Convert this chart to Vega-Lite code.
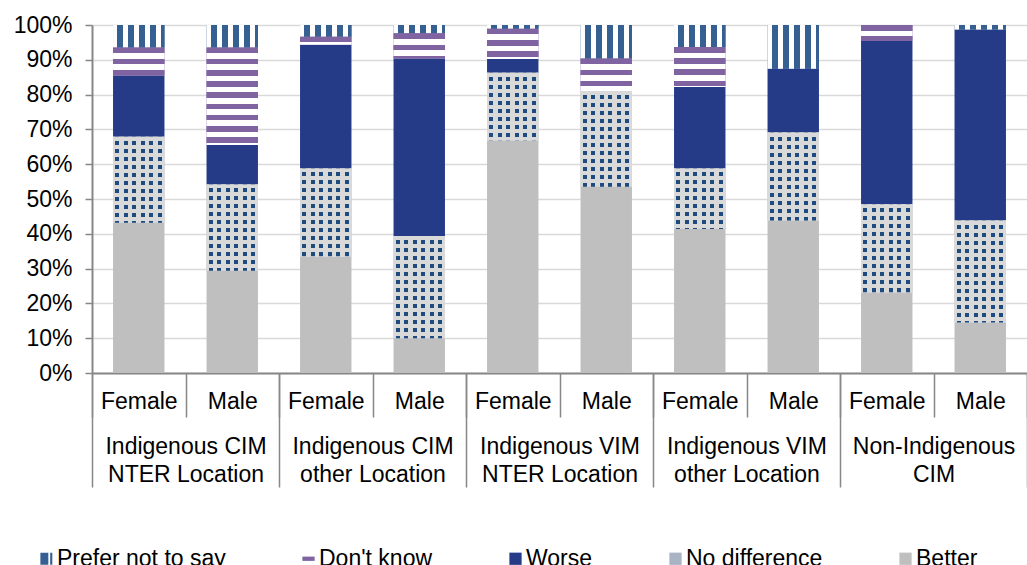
{
  "$schema": "https://vega.github.io/schema/vega-lite/v6.json",
  "width": 935,
  "height": 348,
  "autosize": {"type": "none"},
  "padding": {"left": 92, "top": 25, "right": 0, "bottom": 192},
  "background": "white",
  "params": [
    {"name": "gPNS", "value": {"gradient": "linear", "x1": 0, "y1": 0, "x2": 1, "y2": 0, "stops": [
      {"offset": 0, "color": "#ffffff"}, {"offset": 0.078, "color": "#ffffff"}, {"offset": 0.078, "color": "#376092"}, {"offset": 0.2, "color": "#376092"},
      {"offset": 0.2, "color": "#ffffff"}, {"offset": 0.292, "color": "#ffffff"}, {"offset": 0.292, "color": "#376092"}, {"offset": 0.414, "color": "#376092"},
      {"offset": 0.414, "color": "#ffffff"}, {"offset": 0.506, "color": "#ffffff"}, {"offset": 0.506, "color": "#376092"}, {"offset": 0.628, "color": "#376092"},
      {"offset": 0.628, "color": "#ffffff"}, {"offset": 0.72, "color": "#ffffff"}, {"offset": 0.72, "color": "#376092"}, {"offset": 0.842, "color": "#376092"},
      {"offset": 0.842, "color": "#ffffff"}, {"offset": 0.934, "color": "#ffffff"}, {"offset": 0.934, "color": "#376092"}, {"offset": 1, "color": "#376092"}
    ]}},
    {"name": "gNDX", "value": {"gradient": "linear", "x1": 0, "y1": 0, "x2": 1, "y2": 0, "stops": [
      {"offset": 0, "color": "#d9d9d9"}, {"offset": 0.04, "color": "#d9d9d9"}, {"offset": 0.04, "color": "#1f4a7e"}, {"offset": 0.118, "color": "#1f4a7e"},
      {"offset": 0.118, "color": "#d9d9d9"}, {"offset": 0.207, "color": "#d9d9d9"}, {"offset": 0.207, "color": "#1f4a7e"}, {"offset": 0.285, "color": "#1f4a7e"},
      {"offset": 0.285, "color": "#d9d9d9"}, {"offset": 0.373, "color": "#d9d9d9"}, {"offset": 0.373, "color": "#1f4a7e"}, {"offset": 0.451, "color": "#1f4a7e"},
      {"offset": 0.451, "color": "#d9d9d9"}, {"offset": 0.54, "color": "#d9d9d9"}, {"offset": 0.54, "color": "#1f4a7e"}, {"offset": 0.618, "color": "#1f4a7e"},
      {"offset": 0.618, "color": "#d9d9d9"}, {"offset": 0.707, "color": "#d9d9d9"}, {"offset": 0.707, "color": "#1f4a7e"}, {"offset": 0.785, "color": "#1f4a7e"},
      {"offset": 0.785, "color": "#d9d9d9"}, {"offset": 0.873, "color": "#d9d9d9"}, {"offset": 0.873, "color": "#1f4a7e"}, {"offset": 0.951, "color": "#1f4a7e"},
      {"offset": 0.951, "color": "#d9d9d9"}, {"offset": 1, "color": "#d9d9d9"}
    ]}},
    {"name": "sDK", "value": [
      {"offset": 0, "color": "#8064a2"}, {"offset": 0.05, "color": "#8064a2"}, {"offset": 0.05, "color": "#ffffff"}, {"offset": 0.1, "color": "#ffffff"},
      {"offset": 0.1, "color": "#8064a2"}, {"offset": 0.15, "color": "#8064a2"}, {"offset": 0.15, "color": "#ffffff"}, {"offset": 0.2, "color": "#ffffff"},
      {"offset": 0.2, "color": "#8064a2"}, {"offset": 0.25, "color": "#8064a2"}, {"offset": 0.25, "color": "#ffffff"}, {"offset": 0.3, "color": "#ffffff"},
      {"offset": 0.3, "color": "#8064a2"}, {"offset": 0.35, "color": "#8064a2"}, {"offset": 0.35, "color": "#ffffff"}, {"offset": 0.4, "color": "#ffffff"},
      {"offset": 0.4, "color": "#8064a2"}, {"offset": 0.45, "color": "#8064a2"}, {"offset": 0.45, "color": "#ffffff"}, {"offset": 0.5, "color": "#ffffff"},
      {"offset": 0.5, "color": "#8064a2"}, {"offset": 0.55, "color": "#8064a2"}, {"offset": 0.55, "color": "#ffffff"}, {"offset": 0.6, "color": "#ffffff"},
      {"offset": 0.6, "color": "#8064a2"}, {"offset": 0.65, "color": "#8064a2"}, {"offset": 0.65, "color": "#ffffff"}, {"offset": 0.7, "color": "#ffffff"},
      {"offset": 0.7, "color": "#8064a2"}, {"offset": 0.75, "color": "#8064a2"}, {"offset": 0.75, "color": "#ffffff"}, {"offset": 0.8, "color": "#ffffff"},
      {"offset": 0.8, "color": "#8064a2"}, {"offset": 0.85, "color": "#8064a2"}, {"offset": 0.85, "color": "#ffffff"}, {"offset": 0.9, "color": "#ffffff"},
      {"offset": 0.9, "color": "#8064a2"}, {"offset": 0.95, "color": "#8064a2"}, {"offset": 0.95, "color": "#ffffff"}, {"offset": 1, "color": "#ffffff"}
    ]},
    {"name": "sNDY", "value": [
      {"offset": 0, "color": "#d9d9d9"}, {"offset": 0.0357, "color": "#d9d9d9"}, {"offset": 0.0357, "color": "rgba(255,255,255,0)"}, {"offset": 0.0714, "color": "rgba(255,255,255,0)"},
      {"offset": 0.0714, "color": "#d9d9d9"}, {"offset": 0.1071, "color": "#d9d9d9"}, {"offset": 0.1071, "color": "rgba(255,255,255,0)"}, {"offset": 0.1429, "color": "rgba(255,255,255,0)"},
      {"offset": 0.1429, "color": "#d9d9d9"}, {"offset": 0.1786, "color": "#d9d9d9"}, {"offset": 0.1786, "color": "rgba(255,255,255,0)"}, {"offset": 0.2143, "color": "rgba(255,255,255,0)"},
      {"offset": 0.2143, "color": "#d9d9d9"}, {"offset": 0.25, "color": "#d9d9d9"}, {"offset": 0.25, "color": "rgba(255,255,255,0)"}, {"offset": 0.2857, "color": "rgba(255,255,255,0)"},
      {"offset": 0.2857, "color": "#d9d9d9"}, {"offset": 0.3214, "color": "#d9d9d9"}, {"offset": 0.3214, "color": "rgba(255,255,255,0)"}, {"offset": 0.3571, "color": "rgba(255,255,255,0)"},
      {"offset": 0.3571, "color": "#d9d9d9"}, {"offset": 0.3929, "color": "#d9d9d9"}, {"offset": 0.3929, "color": "rgba(255,255,255,0)"}, {"offset": 0.4286, "color": "rgba(255,255,255,0)"},
      {"offset": 0.4286, "color": "#d9d9d9"}, {"offset": 0.4643, "color": "#d9d9d9"}, {"offset": 0.4643, "color": "rgba(255,255,255,0)"}, {"offset": 0.5, "color": "rgba(255,255,255,0)"},
      {"offset": 0.5, "color": "#d9d9d9"}, {"offset": 0.5357, "color": "#d9d9d9"}, {"offset": 0.5357, "color": "rgba(255,255,255,0)"}, {"offset": 0.5714, "color": "rgba(255,255,255,0)"},
      {"offset": 0.5714, "color": "#d9d9d9"}, {"offset": 0.6071, "color": "#d9d9d9"}, {"offset": 0.6071, "color": "rgba(255,255,255,0)"}, {"offset": 0.6429, "color": "rgba(255,255,255,0)"},
      {"offset": 0.6429, "color": "#d9d9d9"}, {"offset": 0.6786, "color": "#d9d9d9"}, {"offset": 0.6786, "color": "rgba(255,255,255,0)"}, {"offset": 0.7143, "color": "rgba(255,255,255,0)"},
      {"offset": 0.7143, "color": "#d9d9d9"}, {"offset": 0.75, "color": "#d9d9d9"}, {"offset": 0.75, "color": "rgba(255,255,255,0)"}, {"offset": 0.7857, "color": "rgba(255,255,255,0)"},
      {"offset": 0.7857, "color": "#d9d9d9"}, {"offset": 0.8214, "color": "#d9d9d9"}, {"offset": 0.8214, "color": "rgba(255,255,255,0)"}, {"offset": 0.8571, "color": "rgba(255,255,255,0)"},
      {"offset": 0.8571, "color": "#d9d9d9"}, {"offset": 0.8929, "color": "#d9d9d9"}, {"offset": 0.8929, "color": "rgba(255,255,255,0)"}, {"offset": 0.9286, "color": "rgba(255,255,255,0)"},
      {"offset": 0.9286, "color": "#d9d9d9"}, {"offset": 0.9643, "color": "#d9d9d9"}, {"offset": 0.9643, "color": "rgba(255,255,255,0)"}, {"offset": 1, "color": "rgba(255,255,255,0)"}
    ]}
  ],
  "data": {"values": [
    {"bar": "1 Female", "group": "Indigenous CIM|NTER Location", "cat": "Better", "k": 1, "pct": 43.2},
    {"bar": "1 Female", "group": "Indigenous CIM|NTER Location", "cat": "No difference", "k": 2, "pct": 24.7},
    {"bar": "1 Female", "group": "Indigenous CIM|NTER Location", "cat": "Worse", "k": 3, "pct": 17.6},
    {"bar": "1 Female", "group": "Indigenous CIM|NTER Location", "cat": "Don't know", "k": 4, "pct": 8.0},
    {"bar": "1 Female", "group": "Indigenous CIM|NTER Location", "cat": "Prefer not to say", "k": 5, "pct": 6.5},
    {"bar": "1 Male", "group": "Indigenous CIM|NTER Location", "cat": "Better", "k": 1, "pct": 29.4},
    {"bar": "1 Male", "group": "Indigenous CIM|NTER Location", "cat": "No difference", "k": 2, "pct": 24.8},
    {"bar": "1 Male", "group": "Indigenous CIM|NTER Location", "cat": "Worse", "k": 3, "pct": 11.3},
    {"bar": "1 Male", "group": "Indigenous CIM|NTER Location", "cat": "Don't know", "k": 4, "pct": 28.0},
    {"bar": "1 Male", "group": "Indigenous CIM|NTER Location", "cat": "Prefer not to say", "k": 5, "pct": 6.5},
    {"bar": "2 Female", "group": "Indigenous CIM|other Location", "cat": "Better", "k": 1, "pct": 33.4},
    {"bar": "2 Female", "group": "Indigenous CIM|other Location", "cat": "No difference", "k": 2, "pct": 25.4},
    {"bar": "2 Female", "group": "Indigenous CIM|other Location", "cat": "Worse", "k": 3, "pct": 35.5},
    {"bar": "2 Female", "group": "Indigenous CIM|other Location", "cat": "Don't know", "k": 4, "pct": 2.3},
    {"bar": "2 Female", "group": "Indigenous CIM|other Location", "cat": "Prefer not to say", "k": 5, "pct": 3.4},
    {"bar": "2 Male", "group": "Indigenous CIM|other Location", "cat": "Better", "k": 1, "pct": 10.0},
    {"bar": "2 Male", "group": "Indigenous CIM|other Location", "cat": "No difference", "k": 2, "pct": 29.4},
    {"bar": "2 Male", "group": "Indigenous CIM|other Location", "cat": "Worse", "k": 3, "pct": 51.0},
    {"bar": "2 Male", "group": "Indigenous CIM|other Location", "cat": "Don't know", "k": 4, "pct": 7.2},
    {"bar": "2 Male", "group": "Indigenous CIM|other Location", "cat": "Prefer not to say", "k": 5, "pct": 2.4},
    {"bar": "3 Female", "group": "Indigenous VIM|NTER Location", "cat": "Better", "k": 1, "pct": 66.8},
    {"bar": "3 Female", "group": "Indigenous VIM|NTER Location", "cat": "No difference", "k": 2, "pct": 19.5},
    {"bar": "3 Female", "group": "Indigenous VIM|NTER Location", "cat": "Worse", "k": 3, "pct": 3.9},
    {"bar": "3 Female", "group": "Indigenous VIM|NTER Location", "cat": "Don't know", "k": 4, "pct": 8.7},
    {"bar": "3 Female", "group": "Indigenous VIM|NTER Location", "cat": "Prefer not to say", "k": 5, "pct": 1.1},
    {"bar": "3 Male", "group": "Indigenous VIM|NTER Location", "cat": "Better", "k": 1, "pct": 53.5},
    {"bar": "3 Male", "group": "Indigenous VIM|NTER Location", "cat": "No difference", "k": 2, "pct": 27.5},
    {"bar": "3 Male", "group": "Indigenous VIM|NTER Location", "cat": "Worse", "k": 3, "pct": 0},
    {"bar": "3 Male", "group": "Indigenous VIM|NTER Location", "cat": "Don't know", "k": 4, "pct": 9.4},
    {"bar": "3 Male", "group": "Indigenous VIM|NTER Location", "cat": "Prefer not to say", "k": 5, "pct": 9.6},
    {"bar": "4 Female", "group": "Indigenous VIM|other Location", "cat": "Better", "k": 1, "pct": 41.4},
    {"bar": "4 Female", "group": "Indigenous VIM|other Location", "cat": "No difference", "k": 2, "pct": 17.4},
    {"bar": "4 Female", "group": "Indigenous VIM|other Location", "cat": "Worse", "k": 3, "pct": 23.4},
    {"bar": "4 Female", "group": "Indigenous VIM|other Location", "cat": "Don't know", "k": 4, "pct": 11.5},
    {"bar": "4 Female", "group": "Indigenous VIM|other Location", "cat": "Prefer not to say", "k": 5, "pct": 6.3},
    {"bar": "4 Male", "group": "Indigenous VIM|other Location", "cat": "Better", "k": 1, "pct": 43.8},
    {"bar": "4 Male", "group": "Indigenous VIM|other Location", "cat": "No difference", "k": 2, "pct": 25.3},
    {"bar": "4 Male", "group": "Indigenous VIM|other Location", "cat": "Worse", "k": 3, "pct": 18.3},
    {"bar": "4 Male", "group": "Indigenous VIM|other Location", "cat": "Don't know", "k": 4, "pct": 0},
    {"bar": "4 Male", "group": "Indigenous VIM|other Location", "cat": "Prefer not to say", "k": 5, "pct": 12.6},
    {"bar": "5 Female", "group": "Non-Indigenous|CIM", "cat": "Better", "k": 1, "pct": 23.1},
    {"bar": "5 Female", "group": "Non-Indigenous|CIM", "cat": "No difference", "k": 2, "pct": 25.4},
    {"bar": "5 Female", "group": "Non-Indigenous|CIM", "cat": "Worse", "k": 3, "pct": 46.9},
    {"bar": "5 Female", "group": "Non-Indigenous|CIM", "cat": "Don't know", "k": 4, "pct": 4.6},
    {"bar": "5 Female", "group": "Non-Indigenous|CIM", "cat": "Prefer not to say", "k": 5, "pct": 0},
    {"bar": "5 Male", "group": "Non-Indigenous|CIM", "cat": "Better", "k": 1, "pct": 14.5},
    {"bar": "5 Male", "group": "Non-Indigenous|CIM", "cat": "No difference", "k": 2, "pct": 29.3},
    {"bar": "5 Male", "group": "Non-Indigenous|CIM", "cat": "Worse", "k": 3, "pct": 54.9},
    {"bar": "5 Male", "group": "Non-Indigenous|CIM", "cat": "Don't know", "k": 4, "pct": 0},
    {"bar": "5 Male", "group": "Non-Indigenous|CIM", "cat": "Prefer not to say", "k": 5, "pct": 1.3}
  ]},
  "layer": [
    {
      "encoding": {
        "x": {"field": "bar", "type": "nominal", "sort": null,
          "scale": {"paddingInner": 0, "paddingOuter": 0},
          "axis": {"orient": "bottom", "title": null, "labelExpr": "split(datum.label, ' ')[1]", "labelAngle": 0,
            "tickBand": "extent", "tickSize": 44, "tickColor": "#878787", "tickWidth": 1.5,
            "domainColor": "#878787", "domainWidth": 2, "grid": false,
            "labelFont": "Liberation Sans", "labelFontSize": 23, "labelColor": "#000000",
            "labelBaseline": "middle", "labelPadding": -16, "labelOverlap": false, "labelBound": false, "labelLimit": 0}},
        "y": {"field": "pct", "type": "quantitative", "stack": "normalize",
          "axis": {"title": null, "values": [0, 0.1, 0.2, 0.3, 0.4, 0.5, 0.6, 0.7, 0.8, 0.9, 1], "format": ".0%",
            "tickSize": 7, "tickColor": "#878787", "tickWidth": 1.5, "domainColor": "#878787", "domainWidth": 2,
            "grid": true, "gridColor": "#d9d9d9", "gridWidth": 1.5,
            "labelFont": "Liberation Sans", "labelFontSize": 23, "labelColor": "#000000", "labelPadding": 13}},
        "order": {"field": "k", "type": "quantitative"}
      },
      "layer": [
        {
          "mark": {"type": "bar", "width": {"band": 0.55}},
          "encoding": {
            "color": {"field": "cat", "type": "nominal",
              "scale": {"domain": ["Prefer not to say", "Don't know", "Worse", "No difference", "Better"],
                        "range": ["#376092", "#8064a2", "#253b87", "#a9b3c4", "#bfbfbf"]},
              "legend": {"title": null, "orient": "none", "legendX": -57, "legendY": 522, "direction": "horizontal",
                "columnPadding": 71, "symbolSize": 150, "symbolStrokeWidth": 0, "labelOffset": -1, "labelLimit": 0,
                "labelFont": "Liberation Sans", "labelFontSize": 23, "labelColor": "#000000",
                "encode": {"symbols": {"update": {"shape": {"signal": "datum.value === 'Prefer not to say' ? 'M-1,-1H0.3V1H-1Z M0.6,-1H0.95V1H0.6Z' : datum.value === \"Don't know\" ? 'M-1,-0.35H1V0.35H-1Z' : 'square'"}}}}}
            }
          }
        },
        {
          "mark": {"type": "bar", "width": {"band": 0.55},
            "fill": {"expr": "datum.cat === 'Prefer not to say' ? gPNS : datum.cat === 'No difference' ? gNDX : 'transparent'"}},
          "encoding": {"detail": {"field": "cat", "type": "nominal"}}
        },
        {
          "mark": {"type": "bar", "width": {"band": 0.55},
            "fill": {"expr": "datum.cat === \"Don't know\" ? {gradient: 'linear', x1: 0, y1: 0, x2: 0, y2: 112 / max(1, (datum.pct_end - datum.pct_start) * height), stops: sDK} : datum.cat === 'No difference' ? {gradient: 'linear', x1: 0, y1: 0, x2: 0, y2: 112 / max(1, (datum.pct_end - datum.pct_start) * height), stops: sNDY} : 'transparent'"}},
          "encoding": {"detail": {"field": "cat", "type": "nominal"}}
        }
      ]
    },
    {
      "mark": {"type": "rule", "opacity": 0},
      "encoding": {
        "x": {"field": "group", "type": "nominal", "sort": null,
          "scale": {"paddingInner": 0, "paddingOuter": 0},
          "axis": {"orient": "bottom", "title": null, "labelExpr": "split(datum.label, '|')", "labelAngle": 0,
            "tickBand": "extent", "tickSize": 114, "tickColor": "#878787", "tickWidth": 1.5,
            "domain": false, "grid": false,
            "labelFont": "Liberation Sans", "labelFontSize": 23, "labelColor": "#000000",
            "labelBaseline": "top", "labelPadding": -52, "labelLineHeight": 28, "labelOverlap": false, "labelBound": false, "labelLimit": 0}}
      }
    }
  ],
  "resolve": {"scale": {"x": "independent"}, "axis": {"x": "independent"}},
  "config": {"view": {"stroke": null}, "font": "Liberation Sans"}
}
